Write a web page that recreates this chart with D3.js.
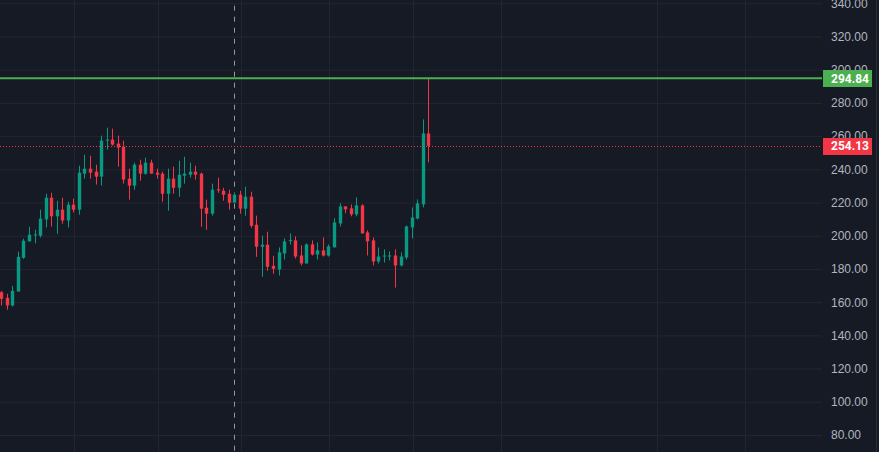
<!DOCTYPE html>
<html lang="en">
<head>
<meta charset="utf-8">
<title>Candlestick chart</title>
<script src="https://cdn.jsdelivr.net/npm/d3@7"></script>
<style>
  body { margin: 0; background-color: #161a25; overflow: hidden; }
  svg { display: block; font-family: Roboto, "Noto Sans", sans-serif; }
</style>
</head>
<body>
<script>
// OHLC values, one entry per daily bar
var opens = [166.0, 162.6, 158.0, 166.4, 186.7, 196.6, 200.4, 200.0, 209.8, 222.9,
  211.7, 215.7, 209.2, 218.7, 215.7, 237.4, 240.4, 238.6, 235.6, 257.3,
  257.9, 255.5, 253.7, 234.4, 230.2, 242.8, 237.4, 244.0, 238.0, 237.4,
  225.3, 234.4, 228.9, 236.2, 236.8, 238.6, 237.4, 216.9, 213.3, 228.0,
  227.1, 225.3, 219.9, 224.7, 216.3, 223.5, 206.6, 193.4, 194.6, 181.9,
  179.7, 189.3, 196.8, 197.2, 188.1, 183.3, 194.8, 188.7, 191.2, 188.1,
  193.0, 207.4, 217.7, 216.5, 212.9, 218.3, 202.0, 197.2, 184.5, 187.5,
  187.5, 188.1, 182.1, 186.9, 205.0, 210.4, 218.9, 261.6];
var highs = [166.8, 165.0, 169.8, 190.4, 198.2, 205.4, 203.6, 215.7, 225.3, 225.9,
  221.1, 222.9, 220.5, 222.3, 242.2, 248.8, 248.2, 242.8, 260.3, 265.1,
  264.5, 260.3, 257.3, 240.4, 244.0, 245.8, 247.0, 245.8, 240.4, 238.6,
  240.4, 241.6, 245.2, 247.6, 244.0, 242.2, 238.0, 221.7, 231.4, 235.0,
  228.9, 227.7, 225.9, 227.1, 229.5, 226.5, 212.1, 200.0, 202.4, 187.9,
  193.0, 198.4, 201.4, 199.6, 194.2, 195.4, 197.2, 196.0, 199.0, 194.8,
  210.5, 219.5, 217.7, 218.9, 223.1, 218.9, 203.2, 199.0, 193.0, 191.8,
  190.6, 191.8, 190.0, 206.2, 217.1, 221.9, 270.1, 294.84];
var lows = [158.0, 155.4, 157.4, 166.4, 186.1, 196.6, 195.4, 199.0, 205.0, 205.6,
  201.2, 207.2, 205.0, 214.1, 212.7, 234.4, 234.4, 230.8, 230.2, 251.9,
  254.3, 241.6, 231.4, 221.7, 227.7, 233.2, 236.8, 237.4, 234.4, 220.5,
  215.1, 225.3, 223.5, 231.4, 235.0, 233.8, 205.4, 203.6, 212.1, 225.9,
  221.1, 215.7, 219.9, 213.3, 212.1, 204.8, 187.3, 175.3, 178.9, 177.1,
  176.1, 185.7, 194.8, 186.3, 182.1, 183.3, 188.1, 185.7, 187.5, 187.5,
  193.0, 205.6, 213.5, 211.7, 211.7, 201.4, 188.1, 182.1, 183.3, 183.9,
  185.1, 168.8, 181.5, 185.7, 198.4, 209.8, 217.1, 244.2];
var closes = [162.0, 158.0, 166.8, 187.3, 197.0, 200.6, 200.8, 210.3, 222.9, 211.7,
  215.7, 209.2, 218.7, 215.7, 238.0, 240.4, 238.0, 235.6, 257.3, 257.9,
  254.9, 253.1, 233.8, 230.2, 242.8, 237.4, 244.0, 237.4, 236.8, 225.3,
  234.4, 228.9, 236.8, 237.4, 238.6, 236.8, 216.3, 213.3, 227.7, 227.3,
  224.7, 219.9, 224.7, 216.3, 223.5, 206.0, 193.4, 194.6, 181.3, 180.1,
  190.0, 196.6, 197.4, 187.5, 183.3, 194.8, 188.7, 191.2, 188.1, 193.6,
  208.0, 217.7, 215.9, 212.9, 218.3, 201.4, 196.6, 184.5, 187.5, 188.1,
  188.1, 182.1, 187.5, 205.6, 211.0, 219.5, 261.6, 254.13];

// price scale ticks and the marked levels
var priceTicks = [80, 100, 120, 140, 160, 180, 200, 220, 240, 260, 280, 300, 320, 340];
var timeGridBars = [13, 28, 43, 59, 74, 90, 118, 134];
var crosshairBar = 42;
var highLevel = 294.84;
var lastPrice = 254.13;

var w = 879, h = 452;
var plotRight = 822;
var upColor = "#089981", downColor = "#f23645";

var svg = d3.select("body").append("svg")
  .attr("width", w)
  .attr("height", h);

svg.append("rect").attr("width", w).attr("height", h).attr("fill", "#161a25");

var x = d3.scaleLinear().domain([0, opens.length - 1]).range([2.3, 429.3]);
var y = d3.scaleLinear().domain([80, 340]).range([435, 3.3]);

var bars = opens.map(function(o, i) {
  return { i: i, o: o, h: highs[i], l: lows[i], c: closes[i] };
});

// vertical (time) grid lines
svg.append("g").selectAll("line")
  .data(timeGridBars)
  .enter().append("line")
  .attr("x1", function(d) { return Math.round(x(d)) + 0.5; })
  .attr("x2", function(d) { return Math.round(x(d)) + 0.5; })
  .attr("y1", 0).attr("y2", h)
  .attr("stroke", "#232632");

// price axis with horizontal grid lines
var yAxis = d3.axisRight(y)
  .tickValues(priceTicks)
  .tickFormat(d3.format(".2f"))
  .tickSizeInner(-plotRight)
  .tickSizeOuter(0)
  .tickPadding(9);

var ax = svg.append("g")
  .attr("transform", "translate(" + plotRight + ",0)")
  .call(yAxis);
ax.select(".domain").remove();
ax.selectAll(".tick line").attr("stroke", "#232632");
ax.selectAll(".tick text")
  .attr("fill", "#b2b5be")
  .style("font-size", "12px");

// crosshair
svg.append("line")
  .attr("x1", Math.round(x(crosshairBar)) - 0.5)
  .attr("x2", Math.round(x(crosshairBar)) - 0.5)
  .attr("y1", 0).attr("y2", h)
  .attr("stroke", "#9598a1")
  .attr("stroke-dasharray", "5,6")
  .attr("stroke-dashoffset", 5.3);

// candles
var bw = 3.4;
var candles = svg.append("g").selectAll("g")
  .data(bars)
  .enter().append("g");

candles.append("rect")
  .attr("x", function(d) { return Math.round(x(d.i)) - 1; })
  .attr("width", 1)
  .attr("y", function(d) { return y(d.h); })
  .attr("height", function(d) { return Math.max(1, y(d.l) - y(d.h)); })
  .attr("fill", function(d) { return d.c >= d.o ? upColor : downColor; });

candles.append("rect")
  .attr("x", function(d) { return Math.round(x(d.i)) - 0.5 - bw / 2; })
  .attr("width", bw)
  .attr("y", function(d) { return y(Math.max(d.o, d.c)); })
  .attr("height", function(d) { return Math.max(1, Math.abs(y(d.o) - y(d.c))); })
  .attr("fill", function(d) { return d.c >= d.o ? upColor : downColor; });

// high level line and last price line
svg.append("line")
  .attr("x1", 0).attr("x2", plotRight)
  .attr("y1", y(highLevel)).attr("y2", y(highLevel))
  .attr("stroke", "#4caf50")
  .attr("stroke-width", 2);

svg.append("line")
  .attr("x1", 0).attr("x2", plotRight)
  .attr("y1", Math.round(y(lastPrice)) + 0.5).attr("y2", Math.round(y(lastPrice)) + 0.5)
  .attr("stroke", downColor)
  .attr("stroke-dasharray", "1,2");

// price badges on the axis
var badges = [
  { v: highLevel, color: "#4caf50" },
  { v: lastPrice, color: downColor }
];
var bg = svg.append("g").selectAll("g")
  .data(badges)
  .enter().append("g");
bg.append("rect")
  .attr("x", plotRight + 1)
  .attr("y", function(d) { return Math.round(y(d.v)) - 8; })
  .attr("width", 49)
  .attr("height", 17)
  .attr("fill", function(d) { return d.color; });
bg.append("text")
  .attr("x", plotRight + 9)
  .attr("y", function(d) { return y(d.v); })
  .attr("dy", "0.36em")
  .attr("fill", "#ffffff")
  .style("font-size", "12px")
  .style("font-weight", "bold")
  .text(function(d) { return d3.format(".2f")(d.v); });

// right border
svg.append("line")
  .attr("x1", 876.5).attr("x2", 876.5)
  .attr("y1", 0).attr("y2", h)
  .attr("stroke", "#2a2e39");
</script>
</body>
</html>
